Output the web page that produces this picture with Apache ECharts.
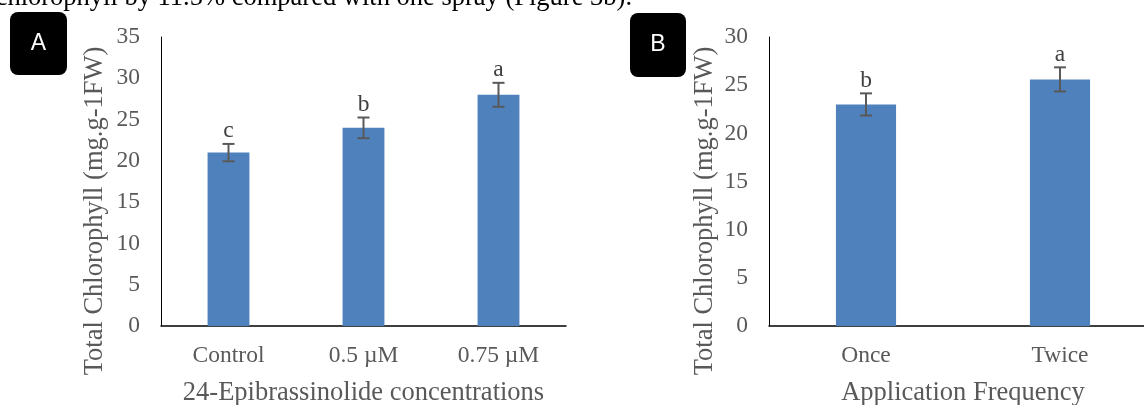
<!DOCTYPE html>
<html>
<head>
<meta charset="utf-8">
<style>
  html, body { margin: 0; padding: 0; background: #fff; }
  #chart { width: 1144px; height: 405px; }
</style>
<script src="https://cdn.jsdelivr.net/npm/echarts@6/dist/echarts.min.js"></script>
</head>
<body>
<div id="chart"></div>
<script>
// panel A: 24-epibrassinolide concentrations
const categoriesA = ['Control', '0.5 µM', '0.75 µM'];
const valuesA = [21.0, 24.0, 28.0];
const errorsA = [1.05, 1.25, 1.45];
const lettersA = ['c', 'b', 'a'];
const ticksA = { min: 0, max: 35, interval: 5 };

// panel B: application frequency
const categoriesB = ['Once', 'Twice'];
const valuesB = [23.0, 25.6];
const errorsB = [1.15, 1.25];
const lettersB = ['b', 'a'];
const ticksB = { min: 0, max: 30, interval: 5 };

const serif = '"Liberation Serif", "Times New Roman", serif';
const grey = '#595959';
const barColor = '#4F81BD';

const chart = echarts.init(document.getElementById('chart'));

function xAxisFor(gridIndex, cats, title) {
  return {
    type: 'category',
    gridIndex: gridIndex,
    data: cats,
    axisTick: { show: false },
    axisLine: { lineStyle: { color: '#000', width: 1.5 } },
    axisLabel: { color: grey, fontFamily: serif, fontSize: 23.5, margin: 18 },
    name: title,
    nameLocation: 'middle',
    nameGap: 54,
    nameTextStyle: { color: grey, fontFamily: serif, fontSize: 26.5 }
  };
}

function yAxisFor(gridIndex, t) {
  return {
    type: 'value',
    gridIndex: gridIndex,
    min: t.min,
    max: t.max,
    interval: t.interval,
    splitLine: { show: false },
    axisTick: { show: false },
    axisLine: { show: true, lineStyle: { color: '#000', width: 1 } },
    axisLabel: { color: grey, fontFamily: serif, fontSize: 23.5, margin: 21 }
  };
}

// error bars and significance letters
function errorSeries(idx, values, errors, letters) {
  return {
    type: 'custom',
    xAxisIndex: idx,
    yAxisIndex: idx,
    z: 10,
    data: values.map((v, i) => [i, v, errors[i]]),
    renderItem: function (params, api) {
      const i = api.value(0);
      const v = api.value(1);
      const e = api.value(2);
      const top = api.coord([i, v + e]);
      const bot = api.coord([i, v - e]);
      const half = 6;
      const style = { stroke: grey, lineWidth: 2 };
      return {
        type: 'group',
        children: [
          { type: 'line', shape: { x1: top[0], y1: top[1], x2: bot[0], y2: bot[1] }, style: style },
          { type: 'line', shape: { x1: top[0] - half, y1: top[1], x2: top[0] + half, y2: top[1] }, style: style },
          { type: 'line', shape: { x1: bot[0] - half, y1: bot[1], x2: bot[0] + half, y2: bot[1] }, style: style },
          {
            type: 'text',
            x: top[0],
            y: top[1] - 1,
            style: {
              text: letters[params.dataIndex],
              align: 'center',
              verticalAlign: 'bottom',
              font: '23.5px ' + serif,
              fill: '#404040'
            }
          }
        ]
      };
    }
  };
}

function badge(x, y, w, h, label) {
  return {
    type: 'group',
    children: [
      { type: 'rect', shape: { x: x, y: y, width: w, height: h, r: 8 }, style: { fill: '#000' } },
      {
        type: 'text',
        x: x + w / 2,
        y: y + h / 2,
        style: { text: label, fill: '#fff', font: '23px "Liberation Sans", Arial, sans-serif', align: 'center', verticalAlign: 'middle' }
      }
    ]
  };
}

function yTitle(x, y) {
  return {
    type: 'text',
    x: x,
    y: y,
    rotation: Math.PI / 2,
    style: {
      text: 'Total Chlorophyll (mg.g-1FW)',
      fill: grey,
      font: '26.5px ' + serif,
      align: 'center',
      verticalAlign: 'middle'
    }
  };
}

const option = {
  animation: false,
  backgroundColor: '#fff',
  grid: [
    { left: 161, top: 37, width: 405, height: 289, outerBoundsMode: 'none', containLabel: false },
    { left: 769, top: 37, width: 388, height: 289, outerBoundsMode: 'none', containLabel: false }
  ],
  xAxis: [
    xAxisFor(0, categoriesA, '24-Epibrassinolide concentrations'),
    xAxisFor(1, categoriesB, 'Application Frequency')
  ],
  yAxis: [yAxisFor(0, ticksA), yAxisFor(1, ticksB)],
  series: [
    { type: 'bar', xAxisIndex: 0, yAxisIndex: 0, data: valuesA, barWidth: '31%', itemStyle: { color: barColor } },
    errorSeries(0, valuesA, errorsA, lettersA),
    { type: 'bar', xAxisIndex: 1, yAxisIndex: 1, data: valuesB, barWidth: '31%', itemStyle: { color: barColor } },
    errorSeries(1, valuesB, errorsB, lettersB)
  ],
  graphic: [
    {
      type: 'text',
      x: 632,
      y: -2,
      style: {
        text: 'chlorophyll by 11.5% compared with one spray (Figure 3b).',
        fill: '#000',
        font: '26.5px ' + serif,
        align: 'right',
        verticalAlign: 'middle'
      }
    },
    badge(10, 12, 57, 63, 'A'),
    badge(630, 13, 56, 64, 'B'),
    yTitle(95, 211),
    yTitle(705, 211)
  ]
};

chart.setOption(option);
</script>
</body>
</html>
